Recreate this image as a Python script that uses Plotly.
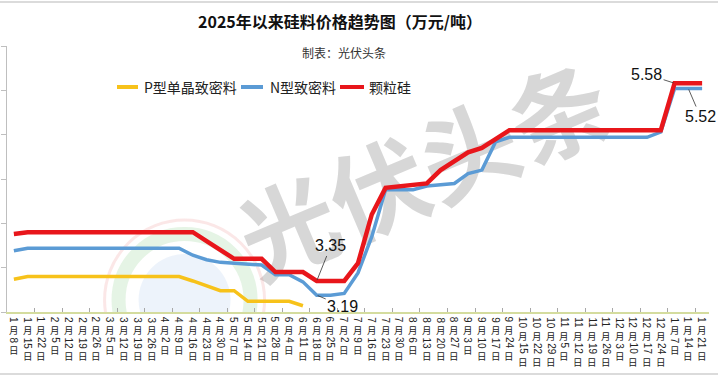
import re
import plotly.graph_objects as go

categories = ["1月8日", "1月15日", "1月22日", "2月5日", "2月12日", "2月19日", "2月26日",
              "3月5日", "3月12日", "3月19日", "3月26日", "4月2日", "4月9日", "4月16日",
              "4月23日", "4月30日", "5月7日", "5月14日", "5月21日", "5月28日", "6月4日",
              "6月11日", "6月18日", "6月25日", "7月2日", "7月9日", "7月16日", "7月23日",
              "7月30日", "8月6日", "8月13日", "8月20日", "8月27日", "9月3日", "9月10日",
              "9月17日", "9月24日", "10月15日", "10月22日", "10月29日", "11月5日",
              "11月12日", "11月19日", "11月26日", "12月3日", "12月10日", "12月17日",
              "12月24日", "1月7日", "1月14日", "1月21日"]

p_type = [3.37, 3.40, 3.40, 3.40, 3.40, 3.40, 3.40, 3.40, 3.40, 3.40, 3.40, 3.40, 3.40,
          3.35, 3.30, 3.24, 3.24, 3.12, 3.12, 3.12, 3.12, 3.07] + [None] * 29

n_type = [3.69, 3.72, 3.72, 3.72, 3.72, 3.72, 3.72, 3.72, 3.72, 3.72, 3.72, 3.72, 3.72,
          3.64, 3.59, 3.56, 3.55, 3.54, 3.53, 3.42, 3.42, 3.34, 3.19, 3.19, 3.21,
          3.44, 3.85, 4.38, 4.38, 4.38, 4.42, 4.44, 4.45, 4.56, 4.60, 4.92,
          4.97, 4.97, 4.97, 4.97, 4.97, 4.97, 4.97, 4.97, 4.97, 4.97, 4.97, 5.03,
          5.52, 5.52, 5.52]

granular = [3.88, 3.90, 3.90, 3.90, 3.90, 3.90, 3.90, 3.90, 3.90, 3.90, 3.90, 3.90, 3.90,
            3.90, 3.80, 3.70, 3.60, 3.60, 3.60, 3.45, 3.45, 3.45, 3.35, 3.35, 3.35,
            3.55, 4.10, 4.40, 4.42, 4.43, 4.45, 4.60, 4.70, 4.80, 4.85, 4.95,
            5.05, 5.05, 5.05, 5.05, 5.05, 5.05, 5.05, 5.05, 5.05, 5.05, 5.05, 5.05,
            5.58, 5.58, 5.58]

series_names = ["P型单晶致密料", "N型致密料", "颗粒硅"]
series_colors = ["#f7c21a", "#5b9bd5", "#e8161b"]
series_widths = [3.5, 3.5, 4.5]

title_text = "2025年以来硅料价格趋势图（万元/吨）"
subtitle_text = "制表：光伏头条"
watermark_text = "光伏头条"

CJK = "Noto Sans CJK SC"
LAT = "Liberation Sans"

# plot-area geometry in pixels (for converting layout positions)
L, T, W, H = 7, 46, 702, 266


def px_x(px):
    return (px - L) / W


def px_y(py):
    return (T + H - py) / H


fig = go.Figure()
for name, vals, col, w in zip(series_names, [p_type, n_type, granular], series_colors, series_widths):
    fig.add_trace(go.Scatter(x=categories, y=vals, name=name, mode="lines",
                             line=dict(color=col, width=w, shape="linear"),
                             connectgaps=False, showlegend=False, hoverinfo="x+y+name"))

fig.update_layout(
    width=718, height=379,
    margin=dict(l=L, r=718 - L - W, t=T, b=379 - T - H),
    paper_bgcolor="white", plot_bgcolor="white",
    font=dict(family=CJK, color="#222222"),
    title=dict(text=title_text, x=340 / 718, xref="container", xanchor="center",
               y=1 - 22 / 379, yref="container", yanchor="middle",
               font=dict(family=CJK, size=16, color="#111111", weight=700)),
    showlegend=False,
    xaxis=dict(type="category", range=[-0.5, len(categories) - 0.5],
               showticklabels=False,
               showline=True, linecolor="#d4dc9e", linewidth=1.5,
               ticks="inside", tickson="boundaries", ticklen=4, tickcolor="#a8a8a8",
               showgrid=False, zeroline=False, fixedrange=True, automargin=False),
    yaxis=dict(range=[3, 6], dtick=0.5, tick0=3, showticklabels=False,
               showline=True, linecolor="#bfbfbf", linewidth=1,
               ticks="outside", ticklen=5, tickcolor="#bfbfbf",
               showgrid=False, zeroline=False, fixedrange=True, automargin=False),
)

# category labels in vertical (stacked) writing: CJK upright, digits turned
CJK_FS = 9.5
DIG_FS = 10
LABEL_TOP = 316
for cat in categories:
    cursor = LABEL_TOP
    for part in re.findall(r"\d+|\D", cat):
        if part.isdigit():
            h = 0.556 * DIG_FS * len(part) + 0.6
            fig.add_annotation(x=cat, xref="x", y=px_y(cursor), yref="paper",
                               text=part, textangle=90, showarrow=False,
                               xanchor="center", yanchor="top", borderpad=0,
                               font=dict(family=LAT, size=DIG_FS, color="#222222"))
        else:
            h = 1.45 * CJK_FS + 0.4
            fig.add_annotation(x=cat, xref="x", y=px_y(cursor), yref="paper",
                               text=part, showarrow=False,
                               xanchor="center", yanchor="top", borderpad=0,
                               font=dict(family=CJK, size=CJK_FS, color="#222222"))
        cursor += h

# subtitle
fig.add_annotation(text=subtitle_text, xref="paper", yref="paper",
                   x=px_x(344), y=px_y(53), xanchor="center", yanchor="middle",
                   showarrow=False, font=dict(family=CJK, size=12, color="#333333"))

# legend (drawn as swatches + text to match the original spacing)
legend_swatch = [(117, 138), (241, 263), (340, 364)]
legend_text_x = [142, 268, 367]
legend_y = 87
for name, col, (sx0, sx1), tx in zip(series_names, series_colors, legend_swatch, legend_text_x):
    fig.add_shape(type="line", xref="paper", yref="paper",
                  x0=px_x(sx0), x1=px_x(sx1), y0=px_y(legend_y), y1=px_y(legend_y),
                  line=dict(color=col, width=4))
    fig.add_annotation(text=name, xref="paper", yref="paper", x=px_x(tx), y=px_y(legend_y),
                       xanchor="left", yanchor="middle", showarrow=False,
                       font=dict(family=CJK, size=14, color="#222222"))

# data labels
num_font = dict(family=LAT, size=16, color="#111111")
labels = [
    (categories[22], granular[22], 14, -35),
    (categories[22], n_type[22], 26, 11),
    (categories[48], granular[48], -28, -9),
    (categories[49], n_type[49], 12, 28),
]
for x, y, ax, ay in labels:
    fig.add_annotation(x=x, y=y, xref="x", yref="y", text=f"{y:.2f}",
                       showarrow=True, arrowhead=0, arrowwidth=0.8, arrowcolor="#333333",
                       ax=ax, ay=ay, font=num_font, standoff=1)

# faint logo behind the lines
logo_x = 12.4
logo_y = 3.135
rings = [
    (80, 3, "rgba(235,120,120,0.18)", "rgba(0,0,0,0)"),
    (66, 14, "rgba(150,210,150,0.25)", "rgba(0,0,0,0)"),
    (46, 0, "rgba(0,0,0,0)", "rgba(140,180,230,0.16)"),
]
for r, lw, lc, fc in rings:
    fig.add_shape(type="circle", xref="x", yref="y", xsizemode="pixel", ysizemode="pixel",
                  xanchor=logo_x, yanchor=logo_y, x0=-r, x1=r, y0=-r, y1=r,
                  line=dict(color=lc, width=lw), fillcolor=fc, layer="below")

# watermark
fig.add_shape(type="rect", xref="paper", yref="paper",
              x0=px_x(428) - 0.05, x1=px_x(428) + 0.05,
              y0=px_y(180) - 0.05, y1=px_y(180) + 0.05,
              line=dict(width=0), fillcolor="rgba(0,0,0,0)", layer="below",
              label=dict(text=watermark_text, textangle=-23, textposition="middle center",
                         font=dict(family=CJK, size=98, color="rgba(175,175,175,0.5)", weight=700)))

# border lines of the chart frame
for py in (2, 374):
    fig.add_shape(type="line", xref="paper", yref="paper",
                  x0=px_x(0), x1=px_x(718), y0=px_y(py), y1=px_y(py),
                  line=dict(color="#cfcfcf", width=1.5))

fig.write_html("out.html", config={"displayModeBar": False},
               post_script="document.body.style.margin='0';document.body.style.padding='0';"
                           "document.body.style.overflow='hidden';")
